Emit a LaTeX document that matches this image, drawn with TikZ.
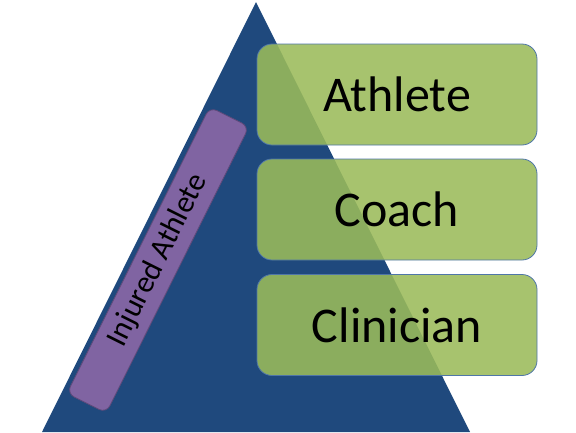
\documentclass[tikz,border=0pt]{standalone}
\usepackage{fontspec}
\setmainfont{Carlito}
\definecolor{triblue}{HTML}{1F497D}
\definecolor{boxgreen}{HTML}{9BBB5A}
\definecolor{boxline}{HTML}{4F76A8}
\definecolor{purfill}{HTML}{8064A2}
\definecolor{purline}{HTML}{5F4A7A}
\tikzset{
  rolebox/.style={draw=boxline, line width=0.8pt, fill=boxgreen, fill opacity=0.88, text opacity=1,
    rounded corners=15pt, minimum width=280pt, minimum height=101pt, inner sep=0pt,
    font=\fontsize{50}{56}\selectfont},
  sidebox/.style={draw=purline, line width=0.8pt, fill=purfill, rounded corners=8pt,
    minimum width=320pt, minimum height=44pt, inner sep=0pt, rotate=63.5,
    font=\fontsize{31}{34}\selectfont}
}
\begin{document}
\begin{tikzpicture}[x=1pt,y=-1pt]
\useasboundingbox (0,0) rectangle (576,432);
\fill[triblue] (42,432) coordinate (bl) -- (256,2) coordinate (apex) -- (470,432) coordinate (br) -- cycle;
\node[sidebox] (injured) at (158,260) {Injured Athlete};
\node[rolebox] (athlete) at (397,94.5) {Athlete};
\node[rolebox] (coach) at (397,209.5) {Coach};
\node[rolebox] (clinician) at (397,325) {Clinician};
\end{tikzpicture}
\end{document}
